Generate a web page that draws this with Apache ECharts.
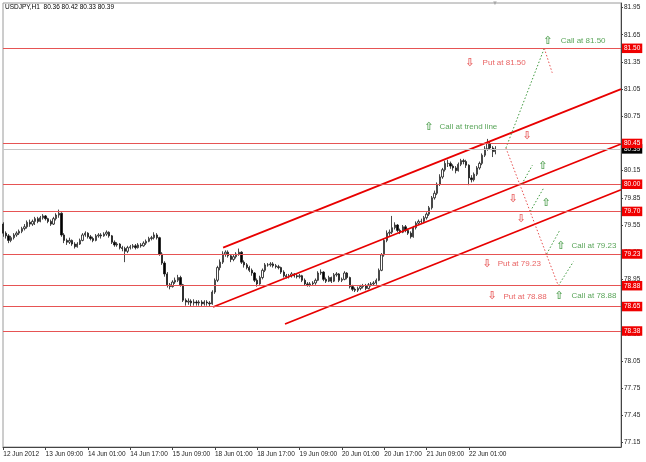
<!DOCTYPE html>
<html><head><meta charset="utf-8">
<script src="https://cdn.jsdelivr.net/npm/echarts@6/dist/echarts.min.js"></script>
<style>html,body{margin:0;padding:0;background:#fff}#c{width:646px;height:462px}</style>
</head><body><div id="c"></div>
<script>
// Hourly bars: [open, close, low, high]
const ohlc = [
[79.56,79.46,79.42,79.58],[79.46,79.43,79.40,79.48],[79.43,79.38,79.35,79.45],[79.38,79.41,79.36,79.43],
[79.41,79.44,79.39,79.46],[79.44,79.46,79.42,79.48],[79.46,79.48,79.44,79.50],[79.48,79.51,79.46,79.53],
[79.51,79.53,79.49,79.56],[79.53,79.58,79.51,79.60],[79.58,79.56,79.53,79.61],[79.56,79.59,79.54,79.61],
[79.59,79.62,79.55,79.64],[79.62,79.59,79.57,79.64],[79.59,79.63,79.58,79.65],[79.63,79.65,79.61,79.67],
[79.65,79.62,79.60,79.66],[79.62,79.59,79.57,79.63],[79.59,79.56,79.54,79.61],[79.56,79.62,79.55,79.64],
[79.62,79.66,79.60,79.68],[79.66,79.68,79.63,79.72],[79.68,79.44,79.42,79.69],[79.44,79.38,79.35,79.46],
[79.38,79.36,79.33,79.40],[79.36,79.38,79.34,79.41],[79.38,79.34,79.32,79.39],[79.34,79.31,79.29,79.36],
[79.31,79.34,79.30,79.36],[79.34,79.38,79.33,79.40],[79.38,79.44,79.37,79.46],[79.44,79.46,79.42,79.48],
[79.46,79.42,79.40,79.47],[79.42,79.40,79.38,79.44],[79.40,79.38,79.36,79.42],[79.38,79.43,79.37,79.45],
[79.43,79.44,79.41,79.46],[79.44,79.43,79.40,79.46],[79.43,79.45,79.42,79.47],[79.45,79.47,79.43,79.49],
[79.47,79.43,79.41,79.48],[79.43,79.36,79.34,79.44],[79.36,79.33,79.31,79.38],[79.33,79.34,79.31,79.36],
[79.34,79.30,79.28,79.35],[79.30,79.29,79.26,79.32],[79.29,79.26,79.14,79.31],[79.26,79.30,79.24,79.32],
[79.30,79.31,79.28,79.33],[79.31,79.32,79.29,79.34],[79.32,79.30,79.28,79.34],[79.30,79.33,79.29,79.35],
[79.33,79.32,79.30,79.35],[79.32,79.35,79.31,79.37],[79.35,79.37,79.33,79.39],[79.37,79.40,79.36,79.42],
[79.40,79.41,79.38,79.43],[79.41,79.44,79.39,79.47],[79.44,79.41,79.39,79.46],[79.41,79.23,79.21,79.42],
[79.23,79.13,79.11,79.25],[79.13,79.01,78.98,79.15],[79.01,78.89,78.86,79.03],[78.89,78.87,78.84,78.91],
[78.87,78.92,78.86,78.94],[78.92,78.94,78.90,78.97],[78.94,78.97,78.92,79.00],[78.97,78.89,78.87,78.99],
[78.89,78.72,78.70,78.90],[78.72,78.70,78.66,78.74],[78.70,78.71,78.67,78.74],[78.71,78.69,78.65,78.73],
[78.69,78.70,78.66,78.73],[78.70,78.69,78.66,78.72],[78.69,78.70,78.66,78.72],[78.70,78.68,78.65,78.72],
[78.68,78.70,78.66,78.72],[78.70,78.69,78.66,78.72],[78.69,78.68,78.65,78.71],[78.68,78.81,78.67,78.83],
[78.81,78.94,78.79,78.96],[78.94,79.08,78.92,79.10],[79.08,79.14,79.05,79.17],[79.14,79.23,79.12,79.26],
[79.23,79.25,79.20,79.27],[79.25,79.21,79.19,79.27],[79.21,79.17,79.14,79.23],[79.17,79.20,79.15,79.22],
[79.20,79.23,79.18,79.25],[79.23,79.25,79.21,79.29],[79.25,79.14,79.12,79.26],[79.14,79.11,79.08,79.16],
[79.11,79.08,79.06,79.13],[79.08,79.05,79.03,79.10],[79.05,79.02,78.99,79.07],[79.02,78.94,78.92,79.03],
[78.94,78.90,78.87,78.96],[78.90,78.97,78.89,78.99],[78.97,79.05,78.95,79.07],[79.05,79.11,79.03,79.13],
[79.11,79.11,79.09,79.13],[79.11,79.12,79.09,79.14],[79.12,79.10,79.08,79.14],[79.10,79.09,79.07,79.12],
[79.09,79.08,79.06,79.11],[79.08,79.03,79.01,79.09],[79.03,78.99,78.97,79.05],[78.99,78.98,78.96,79.01],
[78.98,78.99,78.96,79.01],[78.99,79.01,78.97,79.03],[79.01,78.99,78.97,79.02],[78.99,78.98,78.96,79.01],
[78.98,78.99,78.96,79.01],[78.99,78.94,78.92,79.00],[78.94,78.90,78.88,78.96],[78.90,78.89,78.87,78.92],
[78.89,78.90,78.87,78.92],[78.90,78.91,78.88,78.93],[78.91,78.94,78.89,78.96],[78.94,79.02,78.93,79.04],
[79.02,79.03,79.00,79.06],[79.03,78.95,78.93,79.04],[78.95,78.93,78.91,78.97],[78.93,78.97,78.92,78.99],
[78.97,78.93,78.91,78.98],[78.93,79.00,78.92,79.02],[79.00,79.01,78.98,79.03],[79.01,78.94,78.92,79.02],
[78.94,78.95,78.92,78.97],[78.95,79.02,78.94,79.04],[79.02,78.97,78.95,79.03],[78.97,78.87,78.85,78.98],
[78.87,78.84,78.82,78.89],[78.84,78.83,78.81,78.86],[78.83,78.85,78.81,78.87],[78.85,78.87,78.83,78.89],
[78.87,78.88,78.85,78.90],[78.88,78.85,78.83,78.90],[78.85,78.89,78.84,78.91],[78.89,78.90,78.87,78.92],
[78.90,78.91,78.88,78.93],[78.91,78.94,78.89,78.96],[78.94,79.05,78.93,79.07],[79.05,79.22,79.04,79.24],
[79.22,79.38,79.20,79.40],[79.38,79.46,79.36,79.49],[79.46,79.47,79.43,79.50],[79.47,79.52,79.45,79.65],
[79.52,79.55,79.50,79.58],[79.55,79.49,79.47,79.56],[79.49,79.47,79.45,79.51],[79.47,79.53,79.46,79.55],
[79.53,79.49,79.47,79.55],[79.49,79.46,79.44,79.51],[79.46,79.42,79.40,79.48],[79.42,79.52,79.41,79.54],
[79.52,79.57,79.50,79.59],[79.57,79.59,79.55,79.61],[79.59,79.59,79.56,79.62],[79.59,79.63,79.57,79.65],
[79.63,79.67,79.61,79.69],[79.67,79.74,79.65,79.76],[79.74,79.85,79.72,79.87],[79.85,79.90,79.83,79.93],
[79.90,80.00,79.88,80.02],[80.00,80.08,79.98,80.11],[80.08,80.16,80.06,80.18],[80.16,80.23,80.14,80.26],
[80.23,80.23,80.19,80.27],[80.23,80.20,80.17,80.25],[80.20,80.18,80.15,80.22],[80.18,80.15,80.12,80.20],
[80.15,80.22,80.14,80.24],[80.22,80.26,80.20,80.28],[80.26,80.25,80.22,80.28],[80.25,80.21,80.18,80.27],
[80.21,80.07,79.99,80.22],[80.07,80.05,80.02,80.10],[80.05,80.11,80.03,80.13],[80.11,80.18,80.09,80.20],
[80.18,80.23,80.16,80.25],[80.23,80.32,80.21,80.34],[80.32,80.39,80.30,80.42],[80.39,80.45,80.37,80.50],
[80.45,80.40,80.38,80.47],[80.40,80.36,80.30,80.42],[80.36,80.39,80.33,80.42]
];
const xTickBars = [0,16,32,48,64,80,96,112,128,144,160,176];
const xTickLabels = ['12 Jun 2012','13 Jun 09:00','14 Jun 01:00','14 Jun 17:00','15 Jun 09:00','18 Jun 01:00','18 Jun 17:00','19 Jun 09:00','20 Jun 01:00','20 Jun 17:00','21 Jun 09:00','22 Jun 01:00'];
const yTicks = [77.15,77.45,77.75,78.05,78.35,78.65,78.95,79.25,79.55,79.85,80.15,80.45,80.75,81.05,81.35,81.65,81.95];
const levels = [81.50,80.45,80.00,79.70,79.23,78.88,78.65,78.38];
const bidPrice = 80.39;
const headerText = 'USDJPY,H1  80.36 80.42 80.33 80.39';
// trend channel: [[bar, price],[bar, price]]
const channelLines = [
  [[83.1,79.30],[233.5,81.05]],
  [[79.3,78.645],[233.5,80.444]],
  [[106.5,78.457],[233.5,79.939]]
];
const greenPaths = [
  [[190,80.40],[204.5,81.50]],
  [[196,80.00],[200,80.21]],
  [[199.2,79.70],[204.2,79.955]],
  [[205.4,79.23],[210.5,79.50]],
  [[209.8,78.88],[215.5,79.145]]
];
const redPaths = [
  [[204.5,81.50],[207.5,81.23]],
  [[190,80.40],[209.8,78.88]]
];
const upArrows = [[205.9,81.58],[160.9,80.63],[204.0,80.20],[205.2,79.79],[210.8,79.32],[210.1,78.77]];
const downArrows = [[176.4,81.34],[198.0,80.53],[192.7,79.83],[195.7,79.61],[182.9,79.12],[184.8,78.76]];
const callNotes = [[210.5,81.58,'Call at 81.50'],[164.7,80.63,'Call at trend line'],[214.6,79.32,'Call at 79.23'],[214.6,78.77,'Call at 78.88']];
const putNotes = [[181.0,81.34,'Put at 81.50'],[186.7,79.12,'Put at 79.23'],[188.9,78.76,'Put at 78.88']];

const FONT = '"Liberation Sans", Arial, sans-serif';
const GREEN = '#2f8f2f', RED = '#e43a3a';
const chart = echarts.init(document.getElementById('c'));
const series = [];
series.push({
  type:'candlestick', datasetIndex:0, encode:{x:0, y:[1,2,3,4]}, barWidth:1.8, z:3,
  itemStyle:{color:'#ffffff', color0:'#000000', borderColor:'#1a1a1a', borderColor0:'#1a1a1a', borderWidth:0.8},
  markLine:{silent:true, symbol:'none', animation:false,
    data:[{yAxis:bidPrice, lineStyle:{color:'#c6c6c6', width:1, type:'solid'},
           label:{backgroundColor:'#000'}}]
      .concat(levels.map(v=>({yAxis:v, lineStyle:{color:'#e65454', width:1, type:'solid'}, label:{backgroundColor:'#f00000'}}))),
    label:{position:'end', distance:1, formatter:p=>Number(p.value).toFixed(2), color:'#fff', padding:[1.5,2,1,2], fontSize:6.5, fontFamily:FONT}
  }
});
channelLines.forEach(seg=>series.push({type:'line', data:seg, showSymbol:false, symbol:'none', z:4, lineStyle:{color:'#e80000', width:1.8}}));
greenPaths.forEach(seg=>series.push({type:'line', data:seg, showSymbol:false, symbol:'none', z:4, lineStyle:{color:'#3f9a3f', width:1, type:[1.5,2]}}));
redPaths.forEach(seg=>series.push({type:'line', data:seg, showSymbol:false, symbol:'none', z:4, lineStyle:{color:'#e85050', width:1, type:[1.5,2]}}));
const labelSeries = (data, color, fmt, pos, size, fam, weight) => ({
  type:'scatter', data:data, symbol:'circle', symbolSize:1, itemStyle:{color:'rgba(0,0,0,0)'}, z:5, silent:true,
  label:{show:true, position:pos, distance:0, formatter:fmt, color:color, fontSize:size, fontFamily:fam, fontWeight:weight||'normal'}
});
series.push(labelSeries(upArrows, GREEN, ()=>'\u21E7', 'inside', 11, '"DejaVu Sans"', 'bold'));
series.push(labelSeries(downArrows, RED, ()=>'\u21E9', 'inside', 11, '"DejaVu Sans"', 'bold'));
series.push(labelSeries(callNotes, GREEN, p=>p.data[2], 'right', 8, FONT));
series.push(labelSeries(putNotes, RED, p=>p.data[2], 'right', 8, FONT));

chart.setOption({
  animation:false,
  backgroundColor:'#ffffff',
  dataset:[{source: ohlc.map((d,i)=>[i, d[0], d[1], d[2], d[3]])}],
  title:{text:headerText, left:5, top:4, padding:0, textStyle:{fontSize:6.5, fontWeight:'normal', color:'#000', fontFamily:FONT}},
  graphic:[{type:'text', left:492, top:0, style:{text:'\u25BC', fill:'#a8a8a8', fontSize:6}}],
  grid:{left:3, right:25, top:3, bottom:15, show:true, borderColor:'#9a9a9a', borderWidth:1},
  xAxis:{type:'value', min:-0.1, max:233.5,
    axisLine:{show:true, onZero:false, lineStyle:{color:'#444', width:1}},
    axisTick:{show:true, customValues:xTickBars, length:3, lineStyle:{color:'#444'}},
    axisLabel:{customValues:xTickBars, formatter:v=>{const k=xTickBars.indexOf(Math.round(v));return k<0?'':xTickLabels[k];}, align:'left', fontSize:6.5, color:'#222', margin:4, fontFamily:FONT},
    splitLine:{show:false}},
  yAxis:{type:'value', position:'right', min:77.10, max:82.00,
    axisLine:{show:true, onZero:false, lineStyle:{color:'#444', width:1}},
    axisTick:{show:true, customValues:yTicks, length:2, lineStyle:{color:'#444'}},
    axisLabel:{customValues:yTicks, formatter:v=>v.toFixed(2), fontSize:6.5, color:'#222', margin:3, fontFamily:FONT},
    splitLine:{show:false}},
  series:series
});
</script></body></html>
